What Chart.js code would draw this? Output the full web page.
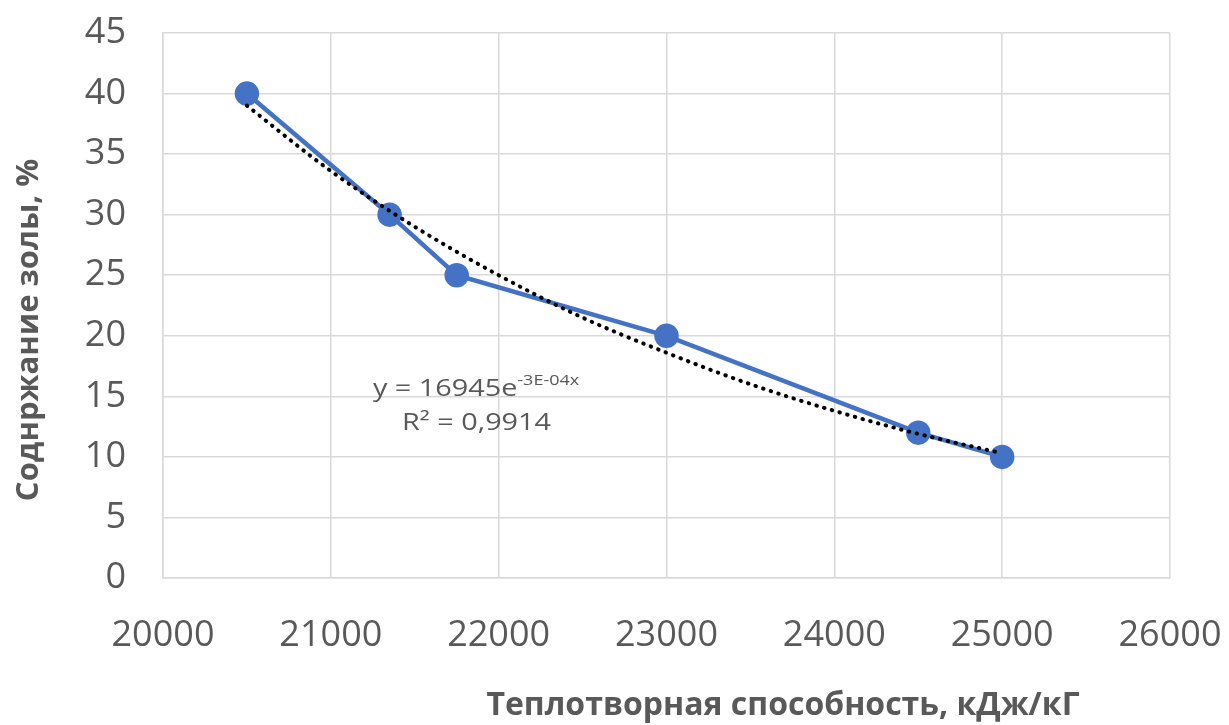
<!DOCTYPE html>
<html>
<head>
<meta charset="utf-8">
<script src="https://cdn.jsdelivr.net/npm/chart.js@4"></script>
<style>
  body { margin: 0; background: #fff; }
  #wrap { width: 1229px; height: 725px; }
</style>
</head>
<body>
<div id="wrap"><canvas id="chart" width="1229" height="725"></canvas></div>
<script>
// Measured points
const heatValues = [20500, 21350, 21750, 23000, 24500, 25000];
const ashValues = [40, 30, 25, 20, 12, 10];

// Dotted exponential trend line
const trendX = [20500, 21000, 21500, 22000, 22500, 23000, 23500, 24000, 24500, 25000];
const trendY = [39.0, 33.6, 29.0, 25.0, 21.5, 18.6, 16.0, 13.8, 11.9, 10.3];

const xTitle = 'Теплотворная способность, кДж/кГ';
const yTitle = 'Соднржание золы, %';
const equationMain = 'y = 16945e';
const equationSup = '-3E-04x';
const rSquared = 'R² = 0,9914';

const fontName = '"Open Sans", "Noto Sans", sans-serif';
const textGrey = '#595959';
const gridGrey = '#d9d9d9';

// Axis titles and the trend line equation, drawn like Excel places them
const chartText = {
    id: 'chartText',
    afterDraw(chart) {
        const ctx = chart.ctx;
        ctx.save();
        ctx.fillStyle = textGrey;

        // x axis title
        ctx.font = 'bold 32px ' + fontName;
        ctx.textAlign = 'center';
        ctx.textBaseline = 'middle';
        ctx.fillText(xTitle, 783, 706);

        // y axis title
        ctx.save();
        ctx.translate(29, 330);
        ctx.rotate(-Math.PI / 2);
        ctx.font = 'bold 31px ' + fontName;
        ctx.fillText(yTitle, 0, 0);
        ctx.restore();

        // equation
        const ex = chart.scales.x.getPixelForValue(21251);
        const ey = chart.scales.y.getPixelForValue(15.6);
        ctx.save();
        ctx.translate(ex, ey);
        ctx.scale(1.2, 1);
        ctx.textAlign = 'left';
        ctx.font = '24px ' + fontName;
        ctx.fillText(equationMain, 0, 0);
        const w = ctx.measureText(equationMain).width;
        ctx.font = '15px ' + fontName;
        ctx.fillText(equationSup, w, -8);
        ctx.restore();

        const rx = chart.scales.x.getPixelForValue(21424);
        const ry = chart.scales.y.getPixelForValue(12.8);
        ctx.save();
        ctx.translate(rx, ry);
        ctx.scale(1.2, 1);
        ctx.textAlign = 'left';
        ctx.font = '24px ' + fontName;
        ctx.fillText(rSquared, 0, 0);
        ctx.restore();

        ctx.restore();
    }
};

const ctx = document.getElementById('chart').getContext('2d');

new Chart(ctx, {
    type: 'scatter',
    data: {
        datasets: [
            {
                label: 'Зола',
                data: heatValues.map((v, i) => ({ x: v, y: ashValues[i] })),
                showLine: true,
                borderColor: '#4472C4',
                backgroundColor: '#4472C4',
                borderWidth: 4.5,
                pointRadius: 10,
                pointHoverRadius: 10,
                order: 2,
            },
            {
                label: 'Тренд',
                data: trendX.map((v, i) => ({ x: v, y: trendY[i] })),
                showLine: true,
                borderColor: '#000',
                borderWidth: 4,
                borderDash: [0.5, 7.5],
                borderCapStyle: 'round',
                pointRadius: 0,
                cubicInterpolationMode: 'monotone',
                order: 1,
            },
        ],
    },
    options: {
        responsive: false,
        animation: false,
        layout: { padding: { top: 33, right: 59, left: 0, bottom: 0 } },
        plugins: {
            legend: { display: false },
            tooltip: { enabled: false },
        },
        scales: {
            x: {
                type: 'linear',
                min: 20000,
                max: 26000,
                ticks: {
                    stepSize: 1000,
                    color: textGrey,
                    font: { family: fontName, size: 36 },
                    padding: 36,
                    callback: v => String(v),
                },
                grid: { color: gridGrey, lineWidth: 1.5, drawTicks: false },
                border: { color: gridGrey, width: 1.5 },
                afterFit(scale) {
                    scale.height = 147;
                    scale.paddingLeft = 0;
                    scale.paddingRight = 0;
                },
            },
            y: {
                min: 0,
                max: 45,
                ticks: {
                    stepSize: 5,
                    color: textGrey,
                    font: { family: fontName, size: 36 },
                    padding: 37,
                },
                grid: { color: gridGrey, lineWidth: 1.5, drawTicks: false },
                border: { color: gridGrey, width: 1.5 },
                afterFit(scale) {
                    scale.width = 163;
                    scale.paddingTop = 0;
                    scale.paddingBottom = 0;
                },
            },
        },
    },
    plugins: [chartText],
});
</script>
</body>
</html>
